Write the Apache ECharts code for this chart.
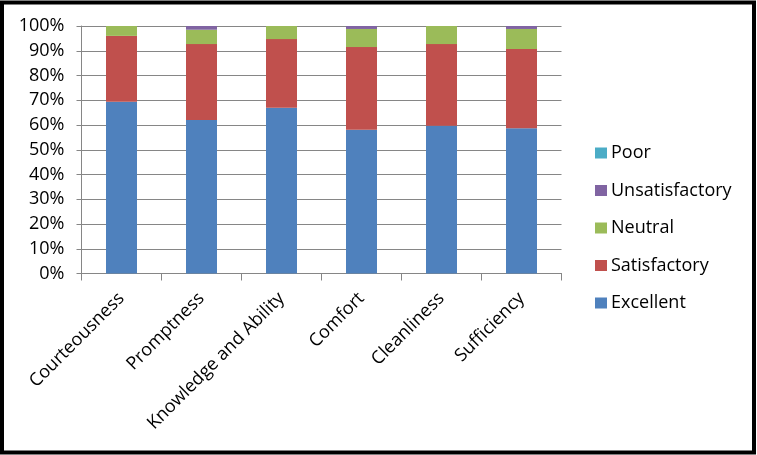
<!DOCTYPE html>
<html>
<head>
<meta charset="utf-8">
<script src="https://cdn.jsdelivr.net/npm/echarts@6/dist/echarts.min.js"></script>
<style>
html,body{margin:0;padding:0;background:#fff;}
#chart{width:757px;height:455px;}
</style>
</head>
<body>
<div id="chart"></div>
<script>
var categories = ['Courteousness', 'Promptness', 'Knowledge and Ability', 'Comfort', 'Cleanliness', 'Sufficiency'];
var excellent = [69.4, 62.0, 67.0, 58.1, 59.7, 58.7];
var satisfactory = [26.6, 30.7, 27.7, 33.4, 33.0, 32.0];
var neutral = [4.0, 5.8, 5.3, 7.3, 7.3, 8.1];
var unsatisfactory = [0, 1.5, 0, 1.2, 0, 1.2];
var poor = [0, 0, 0, 0, 0, 0];
var seriesNames = ['Excellent', 'Satisfactory', 'Neutral', 'Unsatisfactory', 'Poor'];
var legendOrder = ['Poor', 'Unsatisfactory', 'Neutral', 'Satisfactory', 'Excellent'];
var colors = ['#4F81BD', '#C0504D', '#9BBB59', '#8064A2', '#4BACC6'];
var values = [excellent, satisfactory, neutral, unsatisfactory, poor];

var font = 'Open Sans';
var chart = echarts.init(document.getElementById('chart'), null, {renderer: 'canvas'});
var series = seriesNames.map(function (n, i) {
  return {
    name: n,
    type: 'bar',
    stack: 'total',
    barWidth: 31,
    itemStyle: {color: colors[i]},
    data: values[i]
  };
});
chart.setOption({
  animation: false,
  color: colors,
  graphic: [{
    type: 'rect',
    shape: {x: 2, y: 2.5, width: 752, height: 450},
    style: {fill: 'none', stroke: '#000', lineWidth: 4},
    z: 100
  }],
  grid: {left: 81.5, right: 195.5, top: 26, bottom: 181.5, containLabel: false},
  legend: {
    orient: 'vertical',
    left: 595,
    top: 144,
    padding: 0,
    data: legendOrder,
    icon: 'rect',
    itemWidth: 12,
    itemHeight: 11,
    itemGap: 19.5,
    textStyle: {fontFamily: font, fontSize: 18, color: '#000', lineHeight: 18, padding: [0, 0, 0, -1]}
  },
  xAxis: {
    type: 'category',
    data: categories,
    axisLine: {lineStyle: {color: '#868686', width: 1}},
    axisTick: {show: true, length: 7, lineStyle: {color: '#868686'}},
    axisLabel: {rotate: 45, margin: 22, fontFamily: font, fontSize: 18, color: '#000', interval: 0}
  },
  yAxis: {
    type: 'value',
    min: 0,
    max: 100,
    interval: 10,
    axisLine: {show: true, lineStyle: {color: '#868686'}},
    axisTick: {show: true, length: 5, lineStyle: {color: '#868686'}},
    splitLine: {lineStyle: {color: '#868686', width: 1}},
    axisLabel: {formatter: '{value}%', margin: 17, fontFamily: font, fontSize: 18, color: '#000'}
  },
  series: series
});
</script>
</body>
</html>
